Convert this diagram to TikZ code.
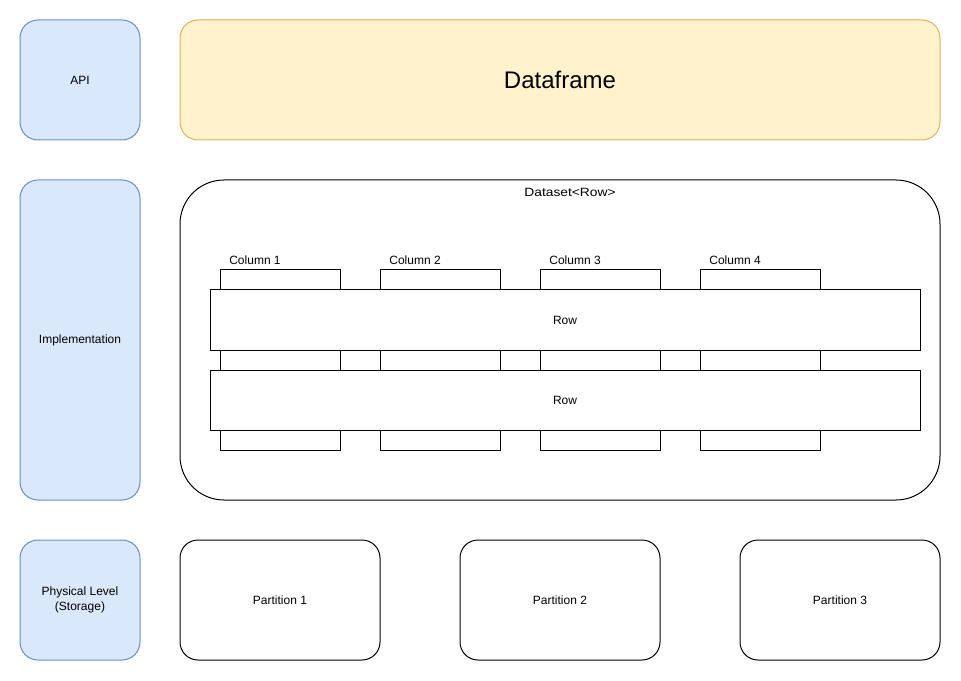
\documentclass[tikz,border=0pt]{standalone}
\usepackage{fontspec}
\setmainfont{Liberation Sans}
\usetikzlibrary{positioning}
\definecolor{layerfill}{HTML}{DAE8FC}
\definecolor{layerline}{HTML}{6C8EBF}
\definecolor{framefill}{HTML}{FFF2CC}
\definecolor{frameline}{HTML}{D6B656}
\tikzset{
  layer/.style={draw=layerline, fill=layerfill, rounded corners=13.5pt,
    minimum width=90pt, align=center, inner sep=0pt},
  dfbox/.style={draw=frameline, fill=framefill, rounded corners=13.5pt,
    minimum width=570pt, minimum height=90pt, font=\fontsize{18}{22}\selectfont},
  colbox/.style={draw, fill=white, minimum width=90pt, minimum height=135pt, inner sep=0pt},
  rowbox/.style={draw, fill=white, minimum width=532.5pt, minimum height=45pt},
  partbox/.style={draw, rounded corners=13.5pt, minimum width=150pt, minimum height=90pt},
  collabel/.style={inner sep=0pt}
}

\begin{document}
\begin{tikzpicture}[x=0.75pt, y=-0.75pt, line width=0.75pt, font=\fontsize{9}{11}\selectfont]
    \useasboundingbox (0,0) rectangle (961,681);

    % levels on the left
    \node[layer, minimum height=90pt] (api) at (80,80) {API};
    \node[layer, minimum height=240pt] (impl) at (80,340) {Implementation};
    \node[layer, minimum height=90pt] (phys) at (80,600) {Physical Level\\(Storage)};

    \node[dfbox] (df) at (560,80) {Dataframe};

    % the dataset with its columns and rows
    \node[draw, rounded corners=33pt, minimum width=570pt, minimum height=240pt] (ds) at (560,340) {};
    \node[anchor=north, inner sep=0pt, xscale=1.15] (dslabel) at (570,187.5) {Dataset<Row>};

    \foreach \i in {1,...,4}
    {\node[colbox] (col\i) at ({120+160*\i},360) {};
     \node[collabel, above right=3.4pt and 7pt of col\i.north west] (collabel\i) {Column \i};
    }
    \foreach \i/\y in {1/320,2/400}
      \node[rowbox] (row\i) at (565,\y) {Row};

    % partitions
    \foreach \i/\x in {1/280,2/560,3/840}
      \node[partbox] (part\i) at (\x,600) {Partition \i};
\end{tikzpicture}
\end{document}
